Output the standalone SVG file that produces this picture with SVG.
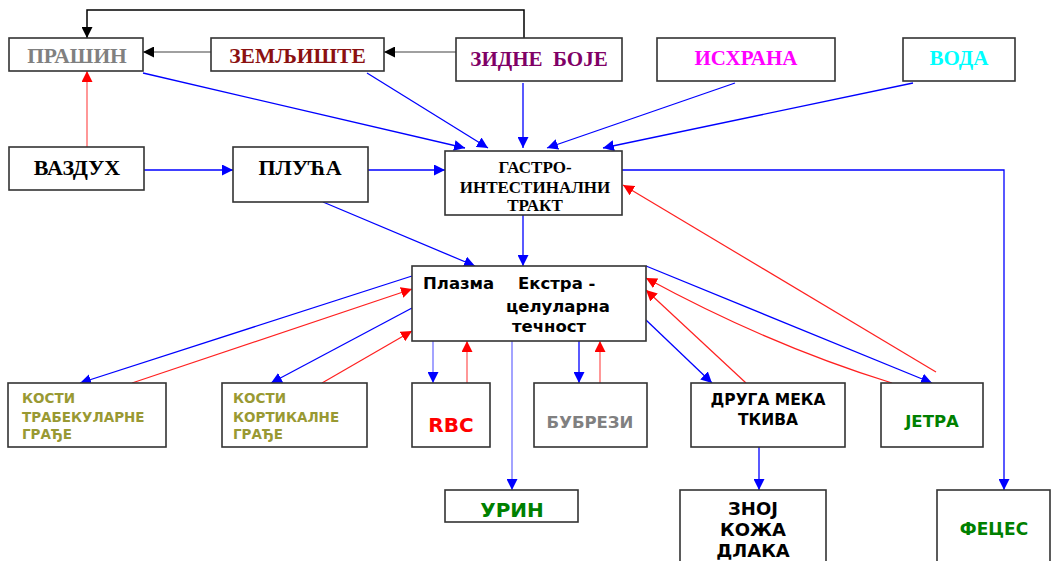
<svg xmlns="http://www.w3.org/2000/svg" width="1051" height="561" viewBox="0 0 1051 561">
<style>
.box{fill:#fff;stroke:#333;stroke-width:1.6}
.serif{font-family:"Liberation Serif","Times New Roman",serif;font-weight:bold;text-anchor:middle}
.sans{font-family:"DejaVu Sans",Verdana,sans-serif;font-weight:bold}
.mid{text-anchor:middle}
.b{stroke:#0000ff;stroke-width:1.3;fill:none;marker-end:url(#ab)}
.lb{stroke:#8c8cff;stroke-width:1.6;fill:none;marker-end:url(#ab)}
.r{stroke:#ff2020;stroke-width:1.2;fill:none;marker-end:url(#ar)}
.lr{stroke:#ff6060;stroke-width:1.3;fill:none;marker-end:url(#ar)}
.k{stroke:#000;stroke-width:1.5;fill:none;marker-end:url(#ak)}
.g{stroke:#808080;stroke-width:1.5;fill:none;marker-end:url(#ak)}
</style>
<defs>
<marker id="ab" markerUnits="userSpaceOnUse" markerWidth="12" markerHeight="11" refX="11" refY="5.5" orient="auto"><path d="M0,0 L11,5.5 L0,11 z" fill="#0000ff"/></marker>
<marker id="ar" markerUnits="userSpaceOnUse" markerWidth="12" markerHeight="11" refX="11" refY="5.5" orient="auto"><path d="M0,0 L11,5.5 L0,11 z" fill="#ff0000"/></marker>
<marker id="ak" markerUnits="userSpaceOnUse" markerWidth="12" markerHeight="11" refX="11" refY="5.5" orient="auto"><path d="M0,0 L11,5.5 L0,11 z" fill="#000"/></marker>
</defs>
<rect width="1051" height="561" fill="#fff"/>
<g id="connectors">
<path class="k" d="M524,38 V10 H87 V38"/>
<path class="g" d="M456,52 H384"/>
<path class="g" d="M211,52 H143"/>
<path class="lr" d="M87,147 V71"/>
<path class="b" d="M144,170 H233"/>
<path class="b" d="M368,170 H445"/>
<path class="b" d="M143,73 L465,148"/>
<path class="b" d="M367,73 L488,148"/>
<path class="b" d="M523,83 V148"/>
<path class="b" d="M735,83 L547,148"/>
<path class="b" d="M913,83 L603,148"/>
<path class="b" d="M622,170 H1004 V490"/>
<path class="r" d="M936,372 L623,185"/>
<path class="b" d="M523,215 V266"/>
<path class="b" d="M323,202 L475,266"/>
<path class="b" d="M412,276 L80,383"/>
<path class="r" d="M132,383 L412,289"/>
<path class="b" d="M412,308 L271,383"/>
<path class="r" d="M322,383 L412,331"/>
<path class="lb" d="M433,341 V383"/>
<path class="lr" d="M467,383 V341"/>
<path class="lb" d="M512,341 V490"/>
<path class="b" d="M579,341 V383"/>
<path class="lr" d="M600,383 V341"/>
<path class="b" d="M646,320 L712,383"/>
<path class="r" d="M746,383 L646,290"/>
<path class="r" d="M892,383 Q769,345 646,278"/>
<path class="b" d="M646,266 L932,383"/>
<path class="b" d="M759,447 V490"/>
</g>
<g id="prashin"><rect class="box" x="9" y="38" width="134" height="33"/><text class="serif" x="77" y="63" font-size="21.5" fill="#808080">ПРАШИН</text></g>
<g id="zemljishte"><rect class="box" x="211" y="38" width="173" height="33"/><text class="serif" x="297.5" y="63" font-size="21.5" fill="#8b1010">ЗЕМЉИШТЕ</text></g>
<g id="zidne-boje"><rect class="box" x="456" y="38" width="166" height="43"/><text class="serif" x="539" y="66" font-size="21" fill="#800066" style="white-space:pre">ЗИДНЕ  БОЈЕ</text></g>
<g id="ishrana"><rect class="box" x="657" y="38" width="178" height="43"/><text class="serif" x="746" y="65" font-size="21" fill="#ff00ff">ИСХРАНА</text></g>
<g id="voda"><rect class="box" x="903" y="38" width="112" height="43"/><text class="serif" x="959" y="65" font-size="21" fill="#00ffff">ВОДА</text></g>
<g id="vazduh"><rect class="box" x="9" y="147" width="135" height="43"/><text class="serif" x="77" y="175" font-size="22" fill="#000">ВАЗДУХ</text></g>
<g id="pluca"><rect class="box" x="233" y="147" width="135" height="55"/><text class="serif" x="300" y="175" font-size="22" fill="#000">ПЛУЋА</text></g>
<g id="gastro"><rect class="box" x="445" y="151" width="177" height="64"/><text class="serif" font-size="17" fill="#000"><tspan x="535" y="173">ГАСТРО-</tspan><tspan x="535" y="193">ИНТЕСТИНАЛНИ</tspan><tspan x="535" y="211">ТРАКТ</tspan></text></g>
<g id="plazma"><rect class="box" x="412" y="266" width="234" height="75"/><text class="sans" font-size="16.5" fill="#000"><tspan x="423" y="289">Плазма</tspan><tspan x="518" y="289">Екстра -</tspan><tspan x="506" y="312">целуларна</tspan><tspan x="512" y="332">течност</tspan></text></g>
<g id="kosti-trab"><rect class="box" x="8" y="383" width="158" height="64"/><text class="sans" font-size="13.5" fill="#999933"><tspan x="22" y="403">КОСТИ</tspan><tspan x="22" y="421.5">ТРАБЕКУЛАРНЕ</tspan><tspan x="22" y="439">ГРАЂЕ</tspan></text></g>
<g id="kosti-kort"><rect class="box" x="222" y="383" width="145" height="64"/><text class="sans" font-size="13.5" fill="#999933"><tspan x="233" y="403">КОСТИ</tspan><tspan x="233" y="421.5">КОРТИКАЛНЕ</tspan><tspan x="233" y="439">ГРАЂЕ</tspan></text></g>
<g id="rbc"><rect class="box" x="412" y="383" width="78" height="64"/><text class="sans mid" x="451" y="432" font-size="20" fill="#ff0000">RBC</text></g>
<g id="bubrezi"><rect class="box" x="534" y="383" width="113" height="64"/><text class="sans mid" x="590" y="428" font-size="16.5" fill="#808080">БУБРЕЗИ</text></g>
<g id="druga"><rect class="box" x="691" y="383" width="154" height="64"/><text class="sans mid" font-size="15.5" fill="#000"><tspan x="768" y="405">ДРУГА МЕКА</tspan><tspan x="768" y="425">ТКИВА</tspan></text></g>
<g id="jetra"><rect class="box" x="881" y="383" width="102" height="64"/><text class="sans mid" x="932" y="427" font-size="16.5" fill="#008000">ЈЕТРА</text></g>
<g id="urin"><rect class="box" x="445" y="490" width="133" height="32"/><text class="sans mid" x="512" y="517" font-size="20" fill="#008000">УРИН</text></g>
<g id="znoj"><rect class="box" x="680" y="490" width="146" height="85"/><text class="sans mid" font-size="18" fill="#000"><tspan x="753" y="515">ЗНОЈ</tspan><tspan x="753" y="536">КОЖА</tspan><tspan x="753" y="557">ДЛАКА</tspan></text></g>
<g id="feces"><rect class="box" x="937" y="490" width="113" height="85"/><text class="sans mid" x="994" y="535" font-size="17" fill="#008000">ФЕЦЕС</text></g>
</svg>
